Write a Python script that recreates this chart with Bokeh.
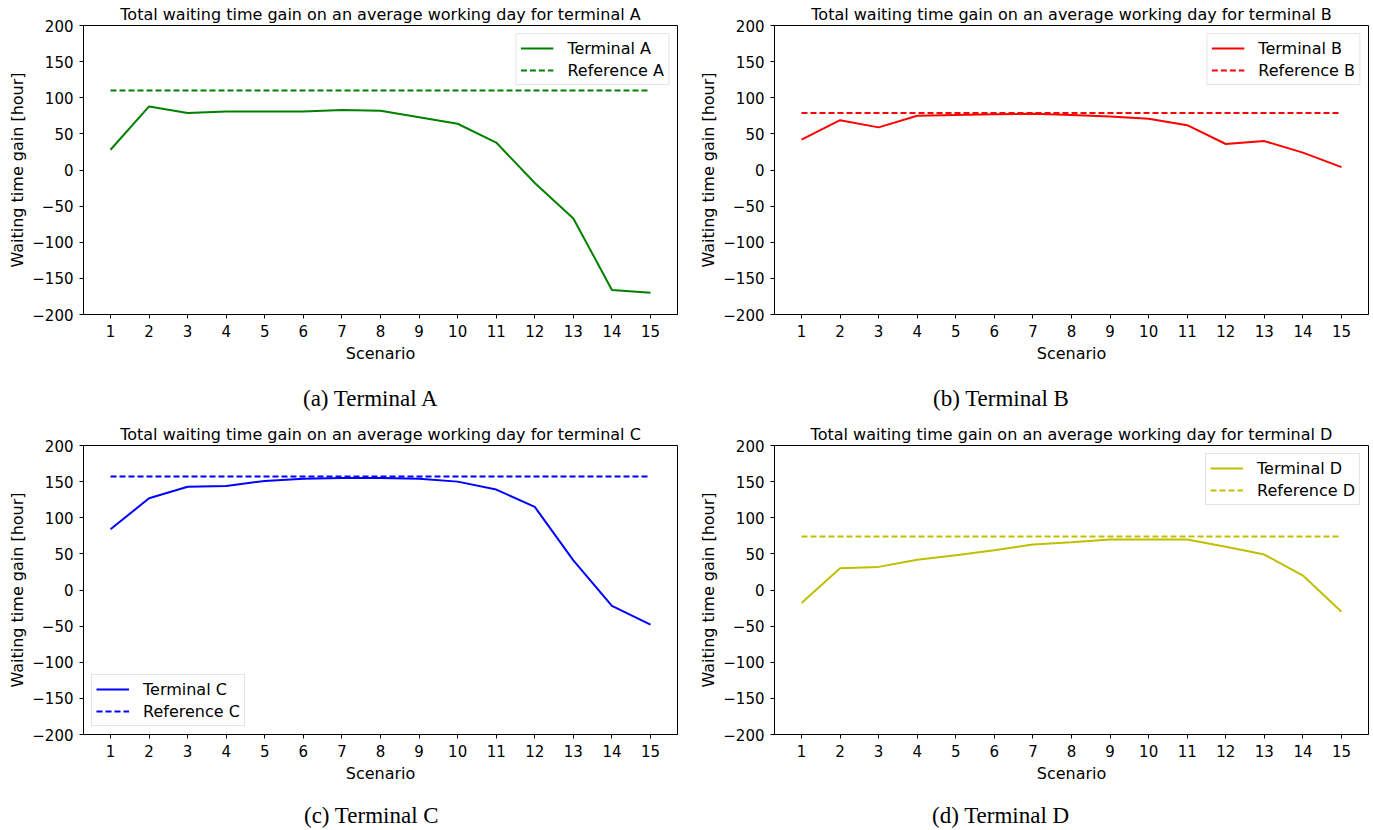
from bokeh.plotting import figure
from bokeh.layouts import column, row
from bokeh.models import Range1d, FixedTicker, Legend, LegendItem, Div
from bokeh.embed import file_html
from bokeh.resources import INLINE

scenarios = list(range(1, 16))
terminal_a = [28, 88, 79, 81, 81, 81, 83, 82, 73, 64, 38, -18, -67, -166, -170]
terminal_b = [42, 69, 59, 75, 76, 77, 78, 76, 74, 71, 62, 36, 40, 24, 4]
terminal_c = [84, 127, 143, 144, 151, 154, 155, 155, 154, 150, 139, 115, 41, -22, -48]
terminal_d = [-18, 30, 32, 42, 48, 55, 63, 66, 70, 70, 70, 60, 49, 20, -30]
reference_a = 110
reference_b = 79
reference_c = 157
reference_d = 74
y_ticks = [-200, -150, -100, -50, 0, 50, 100, 150, 200]
captions = ["(a) Terminal A", "(b) Terminal B", "(c) Terminal C", "(d) Terminal D"]

FONT = "DejaVu Sans"


def make_panel(letter, values, ref, color, legend_loc, width, height, bl, br, bt, bb):
    p = figure(width=width, height=height, output_backend="svg", toolbar_location=None,
               x_range=Range1d(0.3, 15.7), y_range=Range1d(-200, 200),
               min_border_left=bl, min_border_right=br, min_border_top=bt, min_border_bottom=bb)
    p.title.text = f"Total waiting time gain on an average working day for terminal {letter}"
    p.title.align = "center"
    p.title.text_font = FONT
    p.title.text_font_size = "16px"
    p.title.text_font_style = "normal"
    p.title.text_color = "black"
    p.title.standoff = 3
    p.grid.visible = False
    p.outline_line_color = "black"
    p.outline_line_alpha = 1
    p.background_fill_color = "white"
    p.border_fill_color = "white"

    for ax in (p.xaxis[0], p.yaxis[0]):
        ax.major_tick_in = 0
        ax.major_tick_out = 4
        ax.minor_tick_line_color = None
        ax.major_label_text_font = FONT
        ax.major_label_text_font_size = "15px"
        ax.major_label_text_color = "black"
        ax.axis_label_text_font = FONT
        ax.axis_label_text_font_size = "16px"
        ax.axis_label_text_font_style = "normal"
        ax.axis_label_text_color = "black"
        ax.axis_line_color = "black"
        ax.major_tick_line_color = "black"
    p.xaxis.ticker = FixedTicker(ticks=scenarios)
    p.yaxis.ticker = FixedTicker(ticks=y_ticks)
    p.yaxis.major_label_overrides = {t: str(t).replace("-", "\u2212") for t in y_ticks}
    p.xaxis.axis_label = "Scenario"
    p.yaxis.axis_label = "Waiting time gain [hour]"
    p.xaxis.axis_label_standoff = 4
    p.yaxis.axis_label_standoff = 2
    p.xaxis.major_label_standoff = 6
    p.yaxis.major_label_standoff = 6

    r1 = p.line(scenarios, values, line_color=color, line_width=2)
    r2 = p.line(scenarios, [ref] * len(scenarios), line_color=color, line_width=2, line_dash="6 3")

    legend = Legend(items=[LegendItem(label=f"Terminal {letter}", renderers=[r1]),
                           LegendItem(label=f"Reference {letter}", renderers=[r2])],
                    location=legend_loc)
    legend.label_text_font = FONT
    legend.label_text_font_size = "16px"
    legend.label_text_color = "black"
    legend.border_line_color = "#cccccc"
    legend.border_line_width = 1
    legend.background_fill_alpha = 0.9
    legend.glyph_width = 33
    legend.glyph_height = 20
    legend.label_height = 20
    legend.spacing = 2
    legend.padding = 4
    legend.margin = 8
    legend.label_standoff = 14
    p.add_layout(legend, "center")
    return p


def make_caption(text, width, height, left, center_y):
    html = (f'<div style="position:relative;width:{width}px;height:{height}px;overflow:hidden;">'
            f'<span style="position:absolute;left:{left}px;top:{center_y}px;'
            f'transform:translateY(-50%);font-family:\'Liberation Serif\',serif;'
            f'font-size:23px;color:black;white-space:nowrap;line-height:1;">{text}</span></div>')
    return Div(text=html, width=width, height=height, margin=0)


pa = make_panel("A", terminal_a, reference_a, "#008000", "top_right", 691, 370, 83, 14, 25, 56)
pb = make_panel("B", terminal_b, reference_b, "#ff0000", "top_right", 681, 370, 83, 4, 25, 56)
pc = make_panel("C", terminal_c, reference_c, "#0000ff", "bottom_left", 691, 370, 83, 14, 25, 56)
pd = make_panel("D", terminal_d, reference_d, "#bfbf00", "top_right", 681, 370, 83, 4, 25, 56)

ca = make_caption(captions[0], 691, 50, 303, 28)
cb = make_caption(captions[1], 681, 50, 242, 28)
cc = make_caption(captions[2], 691, 38, 304, 25)
cd = make_caption(captions[3], 681, 38, 241, 25)

layout = column(row(pa, pb), row(ca, cb), row(pc, pd), row(cc, cd))
open("out.html", "w").write(file_html(layout, INLINE))
